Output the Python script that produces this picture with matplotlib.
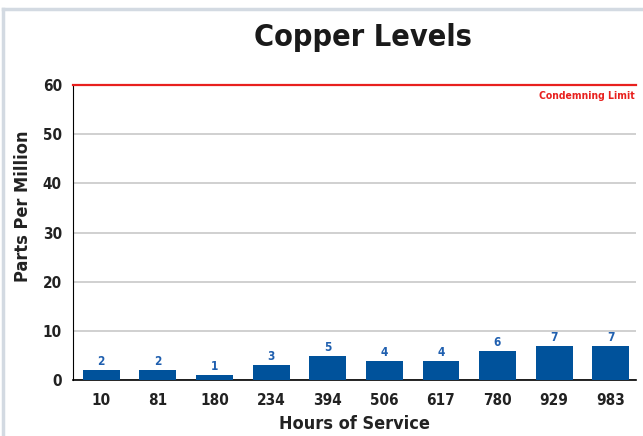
import matplotlib
matplotlib.use("Agg")
import matplotlib.pyplot as plt
from matplotlib.lines import Line2D

hours = ["10", "81", "180", "234", "394", "506", "617", "780", "929", "983"]
copper_ppm = [2, 2, 1, 3, 5, 4, 4, 6, 7, 7]
limit = 60
y_ticks = [0, 10, 20, 30, 40, 50, 60]

plt.rcParams["font.family"] = ["DejaVu Sans"]
plt.rcParams["font.stretch"] = "condensed"

bar_color = "#00529B"

fig = plt.figure(figsize=(6.43, 4.36), dpi=100)
ax = fig.add_axes([0.1135, 0.128, 0.876, 0.677])

x = list(range(len(hours)))
bars = ax.bar(x, copper_ppm, width=0.65, color=bar_color, zorder=3)

for xi, v in zip(x, copper_ppm):
    ax.text(xi, v + 0.4, str(v), ha="center", va="bottom", color="#1F5FAF",
            fontsize=8.5, fontweight="bold", zorder=4)

ax.axhline(limit, color="#E8201E", linewidth=1.6, zorder=4, clip_on=False)
ax.text(9.42, limit - 1.3, "Condemning Limit", ha="right", va="top",
        color="#E8201E", fontsize=7.5, fontweight="bold")

ax.set_xlim(-0.5, 9.45)
ax.set_ylim(0, limit)
ax.set_yticks(y_ticks)
ax.set_xticks(x)
ax.set_xticklabels(hours)
ax.yaxis.grid(True, color="#C8C8C8", linewidth=1.2, zorder=0)
ax.set_axisbelow(True)

for side in ["top", "right"]:
    ax.spines[side].set_visible(False)
ax.spines["left"].set_color("black")
ax.spines["bottom"].set_color("black")
ax.spines["bottom"].set_linewidth(1.2)
ax.tick_params(axis="both", length=0, labelsize=11)
ax.tick_params(axis="y", pad=8)
ax.tick_params(axis="x", pad=9)
for lbl in ax.get_xticklabels() + ax.get_yticklabels():
    lbl.set_fontweight("bold")
    lbl.set_color("#222222")

ax.set_xlabel("Hours of Service", fontsize=13, fontweight="bold", color="#222222")
ax.set_ylabel("Parts Per Million", fontsize=13, fontweight="bold", color="#222222")
ax.xaxis.set_label_coords(0.5, -0.118)
ax.yaxis.set_label_coords(-0.072, 0.59)

fig.text(0.565, 0.915, "Copper Levels", ha="center", va="center",
         fontsize=22, fontweight="bold", color="#1a1a1a")

# light frame along the top and left edge
fig.add_artist(Line2D([3 / 643, 3 / 643], [0, 1 - 9 / 436], transform=fig.transFigure,
                      color="#D3DAE2", linewidth=2.5))
fig.add_artist(Line2D([3 / 643, 1], [1 - 9 / 436, 1 - 9 / 436], transform=fig.transFigure,
                      color="#D3DAE2", linewidth=2.5))

fig.savefig("out.png", dpi=100)
